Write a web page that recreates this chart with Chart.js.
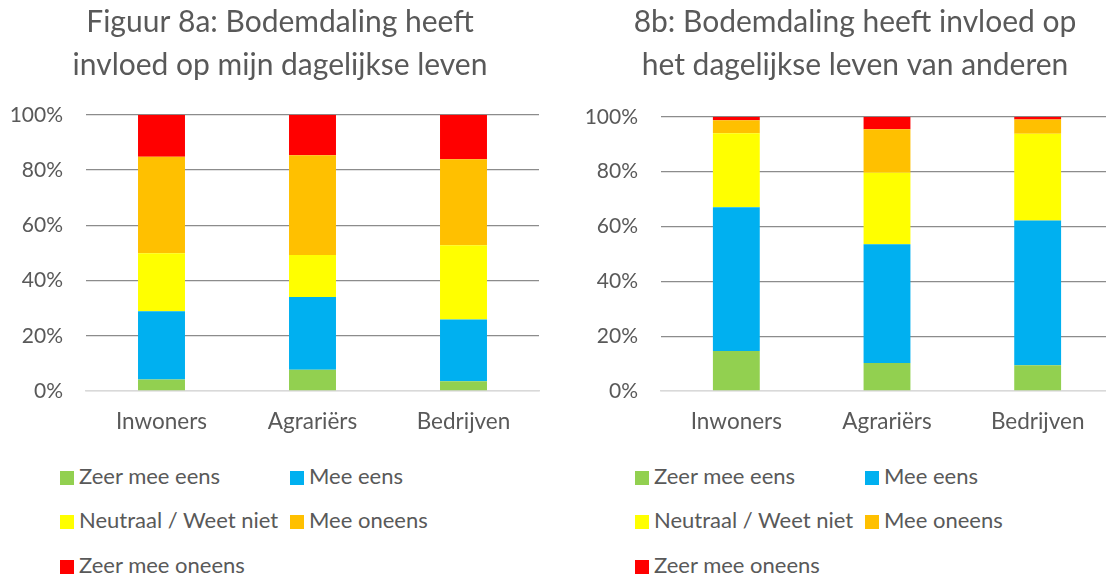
<!DOCTYPE html>
<html>
<head>
<meta charset="utf-8">
<script src="https://cdn.jsdelivr.net/npm/chart.js@4/dist/chart.umd.min.js"></script>
<style>
  html, body { margin: 0; padding: 0; background: #fff; overflow: hidden; width: 1106px; height: 574px; }
  .wrap { position: absolute; top: 0; }
  .legend { position: absolute; font-family: Lato, "Open Sans", sans-serif; font-size: 22px; color: #595959; }
  .li { position: absolute; white-space: nowrap; line-height: 24px; }
  .sw { display: inline-block; width: 14px; height: 14px; margin-right: 5px; vertical-align: -1px; }
</style>
</head>
<body>
<div class="wrap" style="left:0px;width:560px;height:440px;"><canvas id="c1" width="560" height="440"></canvas></div>
<div class="wrap" style="left:570px;width:570px;height:440px;"><canvas id="c2" width="570" height="440"></canvas></div>
<div class="legend" id="lg1" style="left:60px;top:0px;"></div>
<div class="legend" id="lg2" style="left:635px;top:0px;"></div>
<script>
const categories = ["Inwoners", "Agrariërs", "Bedrijven"];
const seriesNames = ["Zeer mee eens", "Mee eens", "Neutraal / Weet niet", "Mee oneens", "Zeer mee oneens"];
const seriesColors = ["#92d050", "#00b0f0", "#ffff00", "#ffc000", "#ff0000"];
const yTicks = [0, 20, 40, 60, 80, 100];

// Figuur 8a (percentages)
const a_zeerMeeEens   = [4.2, 7.7, 3.5];
const a_meeEens       = [24.7, 26.3, 22.4];
const a_neutraal      = [21.0, 15.2, 26.9];
const a_meeOneens     = [34.9, 36.2, 31.1];
const a_zeerMeeOneens = [15.2, 14.6, 16.1];

// Figuur 8b (percentages)
const b_zeerMeeEens   = [14.6, 10.2, 9.4];
const b_meeEens       = [52.4, 43.3, 52.8];
const b_neutraal      = [27.0, 26.1, 31.6];
const b_meeOneens     = [4.7, 15.9, 5.2];
const b_zeerMeeOneens = [1.3, 4.5, 1.0];

const titleA = ["Figuur 8a: Bodemdaling heeft", "invloed op mijn dagelijkse leven"];
const titleB = ["8b: Bodemdaling heeft invloed op", "het dagelijkse leven van anderen"];

const FONT = 'Lato, "Open Sans", sans-serif';
const TXT = '#595959';

// Centre the title over the whole canvas instead of the padded area
const fullWidthTitle = {
  id: 'fullWidthTitle',
  afterLayout(chart) {
    const t = chart.titleBlock;
    if (t) { t.left = 0; t.right = chart.width; t.width = chart.width; }
  }
};

function makeChart(id, title, series, yAxisWidth, padRight, titleBottom) {
  const datasets = series.map((d, i) => ({
    label: seriesNames[i],
    data: d,
    backgroundColor: seriesColors[i],
    borderWidth: 0,
    barPercentage: 0.311,
    categoryPercentage: 1.0
  }));
  return new Chart(document.getElementById(id), {
    type: 'bar',
    data: { labels: categories, datasets },
    plugins: [fullWidthTitle],
    options: {
      responsive: false,
      animation: false,
      layout: { padding: { left: 0, right: padRight, top: 0, bottom: 0 } },
      plugins: {
        legend: { display: false },
        tooltip: { enabled: false },
        title: {
          display: true,
          text: title,
          color: TXT,
          font: { family: FONT, size: 30, weight: 'normal', lineHeight: 1.43 },
          padding: { top: 1, bottom: titleBottom }
        }
      },
      scales: {
        x: {
          stacked: true,
          grid: { display: false, drawTicks: false },
          border: { display: true, color: '#d9d9d9', width: 1.5 },
          ticks: { color: TXT, font: { family: FONT, size: 22.5 }, padding: 17 },
          afterFit: (s) => { s.height = 49; }
        },
        y: {
          stacked: true,
          min: 0, max: 100,
          afterBuildTicks: (s) => { s.ticks = yTicks.map(v => ({ value: v })); },
          grid: { color: (ctx) => ctx.tick && ctx.tick.value === 0 ? '#d9d9d9' : '#8c8c8c', lineWidth: 1.3, drawTicks: false },
          border: { display: false },
          ticks: { color: TXT, font: { family: FONT, size: 21 }, padding: 23, callback: (v) => v + '%' },
          afterFit: (s) => { s.width = yAxisWidth; }
        }
      }
    }
  });
}

makeChart('c1', titleA, [a_zeerMeeEens, a_meeEens, a_neutraal, a_meeOneens, a_zeerMeeOneens], 86, 21, 28);
makeChart('c2', titleB, [b_zeerMeeEens, b_meeEens, b_neutraal, b_meeOneens, b_zeerMeeOneens], 91, 27, 30);

function buildLegend(id, colX) {
  const el = document.getElementById(id);
  const rows = [476, 520, 565];
  seriesNames.forEach((name, i) => {
    const d = document.createElement('div');
    d.className = 'li';
    d.style.left = colX[i % 2] + 'px';
    d.style.top = (rows[Math.floor(i / 2)] - 12) + 'px';
    d.innerHTML = '<span class="sw" style="background:' + seriesColors[i] + '"></span>' + name;
    el.appendChild(d);
  });
}
buildLegend('lg1', [0, 230]);
buildLegend('lg2', [0, 230]);
</script>
</body>
</html>
